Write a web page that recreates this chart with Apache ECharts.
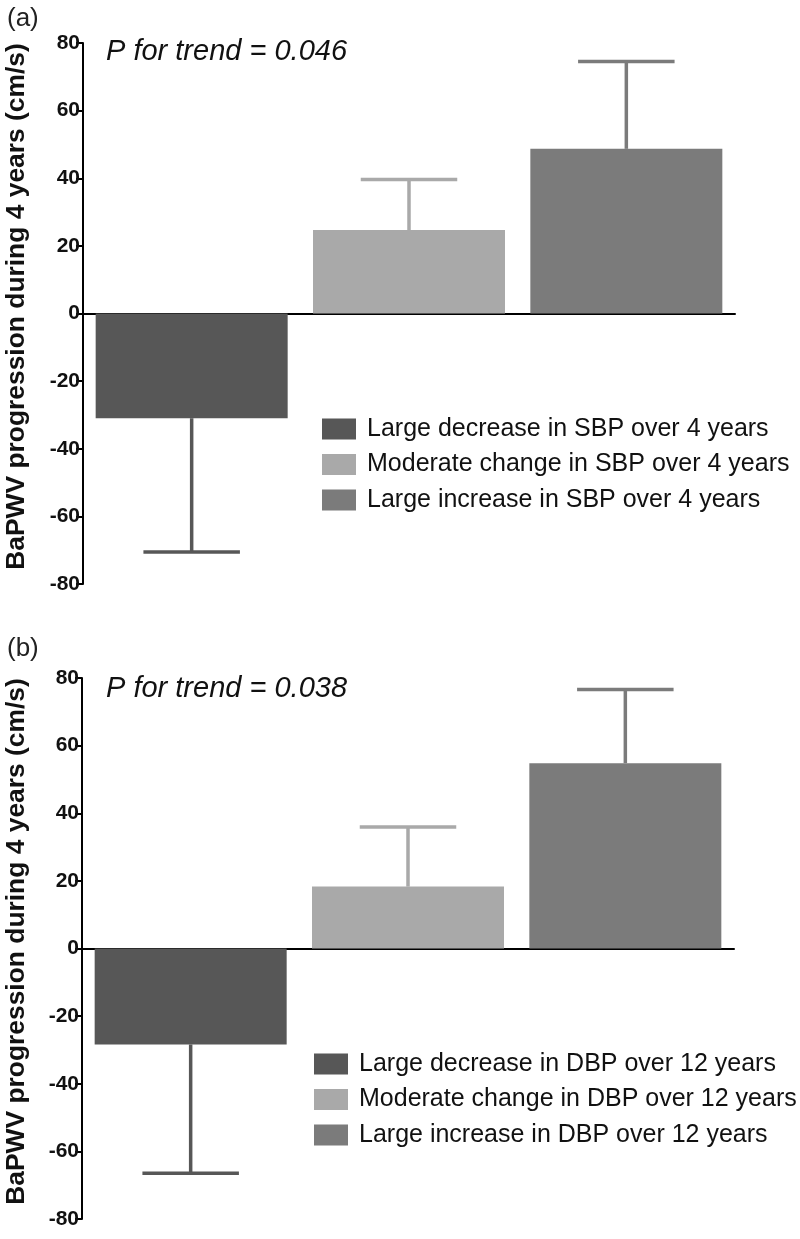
<!DOCTYPE html>
<html>
<head>
<meta charset="utf-8">
<script src="https://cdn.jsdelivr.net/npm/echarts@6/dist/echarts.min.js"></script>
<style>
  html, body { margin: 0; padding: 0; background: #fff; }
  #chart { width: 800px; height: 1239px; }
</style>
</head>
<body>
<div id="chart"></div>
<script>
// ---- data ----
const categories = ['Large decrease', 'Moderate change', 'Large increase'];
const legendA = ['Large decrease in SBP over 4 years', 'Moderate change in SBP over 4 years', 'Large increase in SBP over 4 years'];
const legendB = ['Large decrease in DBP over 12 years', 'Moderate change in DBP over 12 years', 'Large increase in DBP over 12 years'];
const meanA = [-31.0, 24.7, 48.7];
const errEndA = [-70.5, 39.6, 74.5];
const meanB = [-28.4, 18.3, 54.8];
const errEndB = [-66.5, 35.9, 76.6];
const yTicks = [-80, -60, -40, -20, 0, 20, 40, 60, 80];
const pTextA = 'P for trend = 0.046';
const pTextB = 'P for trend = 0.038';
const yTitle = 'BaPWV progression during 4 years (cm/s)';

const colors = ['#575757', '#a9a9a9', '#7b7b7b'];
const FONT = "'Liberation Sans', Arial, Helvetica, sans-serif";

const grids = [
  { left: 83, top: 43, width: 652, height: 541 },
  { left: 82, top: 678, width: 652, height: 541 }
];

function makeX(gi) {
  return {
    type: 'category', gridIndex: gi, data: categories,
    axisLine: { onZero: true, lineStyle: { color: '#000', width: 2 } },
    axisTick: { alignWithLabel: true, length: 6, lineStyle: { color: '#000', width: 2 } },
    axisLabel: { show: false },
    splitLine: { show: false }
  };
}
function makeY(gi) {
  return {
    type: 'value', gridIndex: gi, min: yTicks[0], max: yTicks[yTicks.length - 1], interval: 20,
    axisLine: { show: true, lineStyle: { color: '#000', width: 2 } },
    axisTick: { show: true, length: 7, lineStyle: { color: '#000', width: 2 } },
    axisLabel: { color: '#111', fontSize: 21, fontWeight: 'bold', fontFamily: FONT, margin: 3 },
    splitLine: { show: false }
  };
}

function barSeries(gi, names, means) {
  return names.map((n, i) => ({
    type: 'bar', name: n, xAxisIndex: gi, yAxisIndex: gi,
    data: means.map((v, j) => (j === i ? v : '-')),
    barWidth: 192, barGap: '-100%',
    itemStyle: { color: colors[i] },
    emphasis: { disabled: true }
  }));
}

function errSeries(gi, means, ends) {
  return {
    type: 'custom', xAxisIndex: gi, yAxisIndex: gi, silent: true,
    data: means.map((m, i) => [i, m, ends[i]]),
    renderItem: function (params, api) {
      const idx = api.value(0);
      const p0 = api.coord([idx, api.value(1)]);
      const p1 = api.coord([idx, api.value(2)]);
      const half = api.size([1, 0])[0] * 0.222;
      const style = { stroke: colors[idx], lineWidth: 3.5 };
      return {
        type: 'group',
        children: [
          { type: 'line', shape: { x1: p0[0], y1: p0[1], x2: p1[0], y2: p1[1] }, style: style },
          { type: 'line', shape: { x1: p1[0] - half, y1: p1[1], x2: p1[0] + half, y2: p1[1] }, style: style }
        ]
      };
    },
    z: 1
  };
}

function legend(names, left, top) {
  return {
    data: names, orient: 'vertical', left: left, top: top,
    icon: 'rect', itemWidth: 34, itemHeight: 21, itemGap: 10.5,
    selectedMode: false,
    textStyle: { fontSize: 25, color: '#111', fontFamily: FONT, padding: [0, 0, 0, 6] }
  };
}

const option = {
  animation: false,
  backgroundColor: '#fff',
  grid: grids,
  xAxis: [makeX(0), makeX(1)],
  yAxis: [makeY(0), makeY(1)],
  legend: [legend(legendA, 317, 411.5), legend(legendB, 309, 1046.5)],
  series: [].concat(
    barSeries(0, legendA, meanA), [errSeries(0, meanA, errEndA)],
    barSeries(1, legendB, meanB), [errSeries(1, meanB, errEndB)]
  ),
  graphic: [
    { type: 'text', left: 7, top: 6, style: { text: '(a)', fill: '#222', font: '26px ' + FONT } },
    { type: 'text', left: 7, top: 636, style: { text: '(b)', fill: '#222', font: '26px ' + FONT } },
    { type: 'text', x: 106, y: 52, style: { text: pTextA, font: 'italic 29px ' + FONT, fill: '#111', textVerticalAlign: 'middle' } },
    { type: 'text', x: 106, y: 689, style: { text: pTextB, font: 'italic 29px ' + FONT, fill: '#111', textVerticalAlign: 'middle' } },
    { type: 'text', x: 17, y: 306.5, rotation: Math.PI / 2,
      style: { text: yTitle, font: 'bold 26.4px ' + FONT, fill: '#111', textAlign: 'center', textVerticalAlign: 'middle' } },
    { type: 'text', x: 17, y: 941.5, rotation: Math.PI / 2,
      style: { text: yTitle, font: 'bold 26.4px ' + FONT, fill: '#111', textAlign: 'center', textVerticalAlign: 'middle' } }
  ]
};

const chart = echarts.init(document.getElementById('chart'), null, { renderer: 'canvas' });
chart.setOption(option);
</script>
</body>
</html>
